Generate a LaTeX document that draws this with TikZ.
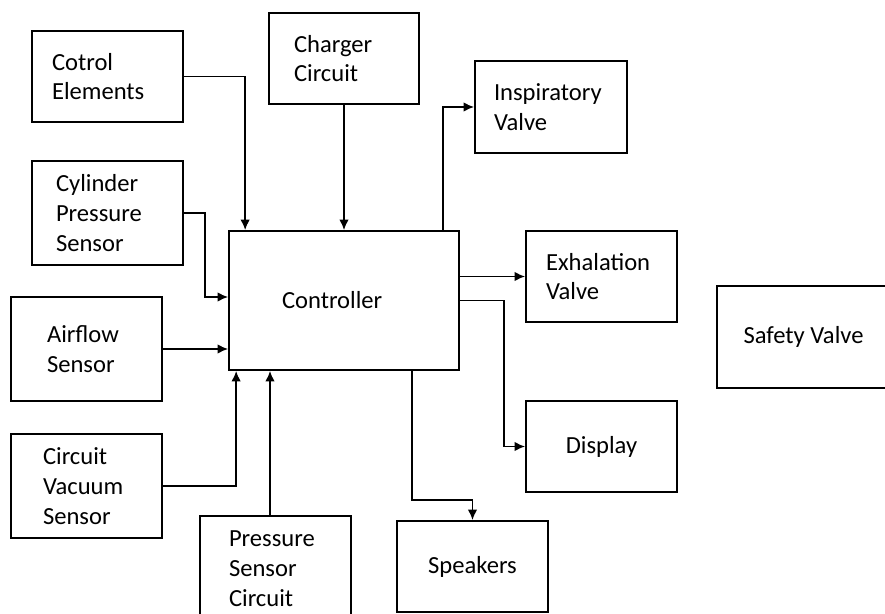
\documentclass[tikz,border=0pt]{standalone}
\usepackage{fontspec}
\setmainfont{Carlito}
\usetikzlibrary{arrows.meta}
\begin{document}
\begin{tikzpicture}[x=0.02cm,y=-0.02cm,
	box/.style={draw,line width=1pt,rectangle,minimum width=3.02cm,minimum height=1.82cm,font=\fontsize{14}{17}\selectfont},
	tall/.style={minimum height=2.08cm},
	lft/.style={align=left,text width=#1},
	conn/.style={line width=1.1pt,-{Latex[length=6pt,width=5.5pt]}}]
	\useasboundingbox (0,0) rectangle (885,614);
	\clip (0,0) rectangle (885,614);

	%Inputs
	\node[box,lft=2.22cm] (ctrlel) at (107.5,76.5) {Cotrol\\Elements};
	\node[box,lft=2.0cm,minimum width=3cm] (charger) at (344,58.5) {Charger\\Circuit};
	\node[box,tall,lft=2.06cm] (cyl) at (107.5,213) {Cylinder\\Pressure\\Sensor};
	\node[box,tall,lft=1.58cm] (air) at (86.5,349) {Airflow\\Sensor};
	\node[box,tall,lft=1.74cm] (cvac) at (86.5,486) {Circuit\\Vacuum\\Sensor};
	\node[box,minimum height=2.12cm,lft=1.86cm] (psc) at (275.5,569) {Pressure\\Sensor\\Circuit};

	%Controller
	\node[box,minimum width=4.6cm,minimum height=2.78cm,lft=2.48cm] (ctrl) at (344,300.5) {Controller};

	%Outputs
	\node[box,minimum width=3.04cm,minimum height=1.84cm,lft=2.28cm] (insp) at (551,107) {Inspiratory\\Valve};
	\node[box,lft=2.22cm] (exh) at (601.5,276.5) {Exhalation\\Valve};
	\node[box,minimum width=3.46cm,minimum height=2.04cm] (safety) at (803.5,337) {Safety Valve};
	\node[box] (disp) at (601.5,446.5) {Display};
	\node[box] (spk) at (472.5,566.5) {Speakers};

	%Signals into the controller
	\draw[conn] (ctrlel.east) -| ([xshift=0.34cm]ctrl.north west);
	\draw[conn] (charger.south) -- (ctrl.north);
	\draw[conn] (cyl.east) -- ++(21,0) |- ([yshift=0.07cm]ctrl.west);
	\draw[conn] (air.east) -- (air.east -| ctrl.west);
	\draw[conn] (cvac.east) -| ([xshift=0.16cm]ctrl.south west);
	\coordinate (p) at ([xshift=-0.11cm]psc.north); %pressure line
	\draw[conn] (p) -- (p |- ctrl.south);

	%Signals out of the controller
	\draw[conn] ([xshift=-0.34cm]ctrl.north east) |- (insp.west);
	\draw[conn] (exh.west -| ctrl.east) -- (exh.west);
	\draw[conn] (ctrl.east) -- ++(44,0) |- (disp.west);
	\draw[conn] ([xshift=1.36cm]ctrl.south) -- ++(0,129) -| (spk.north);

\end{tikzpicture}
\end{document}
